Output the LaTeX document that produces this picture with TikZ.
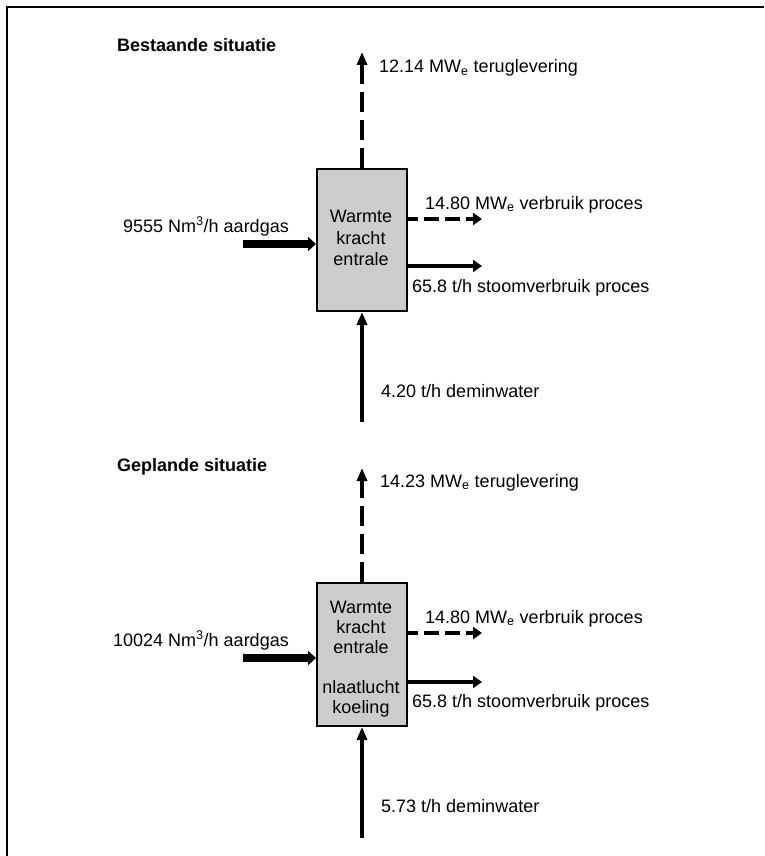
\documentclass[tikz,border=0pt]{standalone}
\usepackage{fontspec}
\setmainfont{Liberation Sans}
\usetikzlibrary{arrows.meta}
\begin{document}
\begin{tikzpicture}[x=1pt,y=-1pt,
  kbox/.style={draw=black, line width=2pt, fill=black!20, minimum width=90pt, inner sep=0pt},
  lbl/.style={font=\fontsize{18}{21.5}\selectfont, inner sep=0pt, anchor=base west},
  lble/.style={font=\fontsize{18}{21.5}\selectfont, inner sep=0pt, anchor=base east},
  hdr/.style={font=\fontsize{18}{21.5}\selectfont\bfseries, inner sep=0pt, anchor=base west},
  btxt/.style={font=\fontsize{18}{21.5}\selectfont, inner sep=0pt, anchor=base},
  dashv/.style={line width=3.2pt, dash pattern=on 20pt off 8pt, -{Triangle[length=13pt,width=10pt]}},
  dashh/.style={line width=3.2pt, dash pattern=on 15pt off 6pt, dash phase=5pt, -{Triangle[length=9pt,width=12pt]}},
  solidh/.style={line width=3.2pt, -{Triangle[length=9pt,width=12pt]}},
  solidv/.style={line width=3.2pt, -{Triangle[length=13pt,width=10pt]}},
  gasarrow/.style={line width=8pt, -{Triangle[length=8pt,width=14pt]}},
  frame/.style={line width=1.3pt}
]
\useasboundingbox (0,0) rectangle (764,856);
\fill[white] (0,0) rectangle (764,856);

% frame
\coordinate (fbl) at (7,856);
\coordinate (ftl) at (7,7);
\coordinate (ftr) at (764,7);
\draw[frame] (fbl) -- (ftl) -- (ftr);

% ===== Bestaande situatie =====
\node[hdr] (h1) at (117,52) {Bestaande situatie};
\node[kbox, minimum height=142pt] (box1) at (362,240) {};
\node[btxt] (w1a) at (361,222) {Warmte};
\node[btxt] (w1b) at (361,244) {kracht};
\node[btxt] (w1c) at (361,265) {entrale};

\coordinate (t1) at (362,52);
\draw[dashv] (box1.north) -- (t1);
\node[lbl] (l1a) at (379,73) {12.14 MW\textsubscript{e} teruglevering};

\coordinate (r1a) at (482,219);
\draw[dashh] (box1.east |- r1a) -- (r1a);
\node[lbl] (l1b) at (425,209) {14.80 MW\textsubscript{e} verbruik proces};

\coordinate (r1b) at (482,266);
\draw[solidh] (box1.east |- r1b) -- (r1b);
\node[lbl] (l1c) at (412,292) {65.8 t/h stoomverbruik proces};

\coordinate (a1) at (243,244);
\draw[gasarrow] (a1) -- (a1 -| box1.west);
\node[lble] (l1d) at (289,232) {9555 Nm\textsuperscript{3}/h aardgas};

\coordinate (b1) at (362,422);
\draw[solidv] (b1) -- (box1.south);
\node[lbl] (l1e) at (381,397) {4.20 t/h deminwater};

% ===== Geplande situatie =====
\node[hdr] (h2) at (117,471) {Geplande situatie};
\node[kbox, minimum height=143pt] (box2) at (362,654.5) {};
\node[btxt] (w2a) at (361,613) {Warmte};
\node[btxt] (w2b) at (361,633) {kracht};
\node[btxt] (w2c) at (361,653) {entrale};
\node[btxt] (w2d) at (361,693) {nlaatlucht};
\node[btxt] (w2e) at (361,713) {koeling};

\coordinate (t2) at (362,468);
\draw[dashv] (box2.north) -- (t2);
\node[lbl] (l2a) at (380,487) {14.23 MW\textsubscript{e} teruglevering};

\coordinate (r2a) at (482,633);
\draw[dashh] (box2.east |- r2a) -- (r2a);
\node[lbl] (l2b) at (425,623) {14.80 MW\textsubscript{e} verbruik proces};

\coordinate (r2b) at (482,682);
\draw[solidh] (box2.east |- r2b) -- (r2b);
\node[lbl] (l2c) at (412,707) {65.8 t/h stoomverbruik proces};

\coordinate (a2) at (243,658);
\draw[gasarrow] (a2) -- (a2 -| box2.west);
\node[lble] (l2d) at (289,646) {10024 Nm\textsuperscript{3}/h aardgas};

\coordinate (b2) at (362,838);
\draw[solidv] (b2) -- (box2.south);
\node[lbl] (l2e) at (381,812) {5.73 t/h deminwater};
\end{tikzpicture}
\end{document}
